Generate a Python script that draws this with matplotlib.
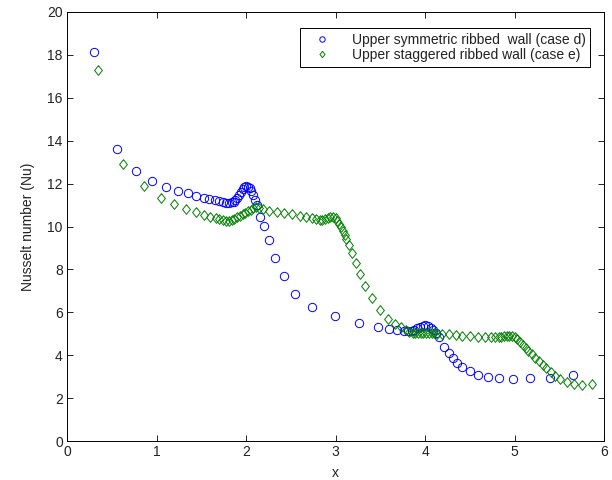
import matplotlib
matplotlib.use("Agg")
import matplotlib.pyplot as plt

plt.rcParams['font.family'] = ['Liberation Sans', 'DejaVu Sans']

# Upper symmetric ribbed wall (case d)
x_sym = [0.30, 0.56, 0.77, 0.95, 1.11, 1.24, 1.35, 1.44, 1.53, 1.59, 1.65, 1.70, 1.74,
         1.78, 1.81, 1.84, 1.86, 1.88, 1.90, 1.92, 1.94, 1.96, 1.98, 2.00, 2.02, 2.04,
         2.06, 2.08, 2.10, 2.12, 2.16, 2.20, 2.25, 2.32, 2.42, 2.55, 2.74, 2.99, 3.26,
         3.47, 3.60, 3.69, 3.76, 3.81, 3.85, 3.88, 3.91, 3.94, 3.97, 4.00, 4.03, 4.06,
         4.09, 4.12, 4.15, 4.21, 4.26, 4.31, 4.36, 4.41, 4.50, 4.59, 4.70, 4.82, 4.98,
         5.17, 5.39, 5.65]
y_sym = [18.15, 13.61, 12.59, 12.14, 11.84, 11.67, 11.55, 11.44, 11.35, 11.29, 11.22, 11.18, 11.14,
         11.12, 11.12, 11.13, 11.16, 11.22, 11.32, 11.45, 11.60, 11.74, 11.84, 11.88, 11.86, 11.78,
         11.64, 11.46, 11.26, 11.00, 10.46, 10.02, 9.36, 8.55, 7.69, 6.88, 6.26, 5.85, 5.51,
         5.31, 5.24, 5.18, 5.14, 5.13, 5.15, 5.20, 5.27, 5.33, 5.38, 5.40, 5.37, 5.29,
         5.17, 5.03, 4.86, 4.40, 4.09, 3.86, 3.66, 3.47, 3.26, 3.08, 2.97, 2.92, 2.89,
         2.92, 2.95, 3.09]

# Upper staggered ribbed wall (case e)
x_stg = [0.35, 0.63, 0.86, 1.05, 1.20, 1.33, 1.44, 1.53, 1.60, 1.66, 1.70, 1.74, 1.78,
         1.81, 1.84, 1.87, 1.90, 1.93, 1.96, 1.99, 2.02, 2.05, 2.08, 2.11, 2.14, 2.19,
         2.26, 2.34, 2.42, 2.51, 2.60, 2.67, 2.73, 2.78, 2.82, 2.85, 2.88, 2.91, 2.94,
         2.97, 3.00, 3.02, 3.04, 3.06, 3.08, 3.10, 3.12, 3.15, 3.18, 3.23, 3.27, 3.33,
         3.40, 3.50, 3.58, 3.66, 3.73, 3.78, 3.82, 3.86, 3.89, 3.92, 3.95, 3.98, 4.01,
         4.04, 4.07, 4.10, 4.13, 4.19, 4.26, 4.34, 4.41, 4.50, 4.59, 4.67, 4.73, 4.78,
         4.82, 4.85, 4.88, 4.91, 4.94, 4.97, 5.00, 5.03, 5.06, 5.09, 5.12, 5.15, 5.19,
         5.23, 5.27, 5.31, 5.35, 5.40, 5.45, 5.51, 5.58, 5.66, 5.75, 5.86]
y_stg = [17.30, 12.91, 11.90, 11.31, 11.04, 10.81, 10.67, 10.55, 10.46, 10.38, 10.33, 10.30, 10.28,
         10.27, 10.30, 10.36, 10.43, 10.50, 10.57, 10.64, 10.71, 10.78, 10.85, 10.89, 10.88, 10.80,
         10.72, 10.66, 10.61, 10.57, 10.50, 10.44, 10.38, 10.34, 10.30, 10.30, 10.34, 10.40, 10.45,
         10.45, 10.38, 10.26, 10.12, 9.96, 9.80, 9.62, 9.40, 9.12, 8.75, 8.30, 7.80, 7.23,
         6.69, 6.11, 5.70, 5.45, 5.30, 5.18, 5.10, 5.05, 5.03, 5.03, 5.04, 5.05, 5.05,
         5.04, 5.03, 5.02, 5.01, 5.00, 4.97, 4.94, 4.91, 4.88, 4.86, 4.85, 4.84, 4.83,
         4.84, 4.86, 4.89, 4.92, 4.92, 4.90, 4.84, 4.74, 4.62, 4.49, 4.35, 4.20, 4.04,
         3.88, 3.72, 3.56, 3.40, 3.20, 3.04, 2.90, 2.77, 2.67, 2.61, 2.64]

labels = ["Upper symmetric ribbed  wall (case d)", "Upper staggered ribbed wall (case e)"]
x_ticks = [0, 1, 2, 3, 4, 5, 6]
y_ticks = [0, 2, 4, 6, 8, 10, 12, 14, 16, 18, 20]

diamond = [(0, 1), (0.8, 0), (0, -1), (-0.8, 0), (0, 1)]

fig = plt.figure(figsize=(6.12, 4.80), dpi=100)
ax = fig.add_axes([0.1095, 0.081, 0.878, 0.894])

ax.plot(x_sym, y_sym, linestyle='none', marker='o', markersize=6.0,
        markerfacecolor='none', markeredgecolor='#0000ff', markeredgewidth=0.7,
        label=labels[0])
ax.plot(x_stg, y_stg, linestyle='none', marker=diamond, markersize=7.0,
        markerfacecolor='none', markeredgecolor='#008000', markeredgewidth=0.7,
        label=labels[1])

ax.set_xlim(0, 6)
ax.set_ylim(0, 20)
ax.set_xticks(x_ticks)
ax.set_yticks(y_ticks)
ax.tick_params(direction='in', top=True, right=True, length=4, width=0.6,
               labelsize=10, colors='black', labelcolor='#222222', pad=3)
for s in ax.spines.values():
    s.set_linewidth(0.7)

ax.set_xlabel('x', fontsize=10, labelpad=5, color='#222222')
ax.set_ylabel('Nusselt number (Nu)', fontsize=10, labelpad=9, color='#222222')

leg = ax.legend(loc='upper right', bbox_to_anchor=(0.974, 0.962), borderaxespad=0,
                fontsize=10, frameon=True, fancybox=False, edgecolor='black',
                framealpha=1, borderpad=0.35, handletextpad=0.8, labelspacing=0.05,
                handlelength=2.6, markerscale=0.65)
leg.get_frame().set_linewidth(0.7)
for t in leg.get_texts():
    t.set_color('#222222')

fig.savefig('out.png', dpi=100)
